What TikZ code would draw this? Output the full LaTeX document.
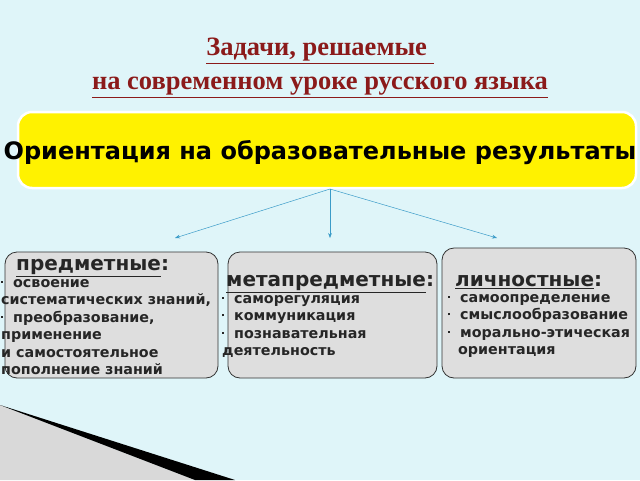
\documentclass[tikz,border=0pt]{standalone}
\usepackage{fontspec}
\setmainfont{Liberation Serif}
\setsansfont{DejaVu Sans}
\definecolor{bg}{HTML}{DFF5F9}
\definecolor{ttl}{HTML}{8B1A1A}
\definecolor{boxg}{HTML}{DEDEDE}
\definecolor{arr}{HTML}{3A9BC8}
\usetikzlibrary{arrows.meta}
\newcommand{\bul}{\raisebox{0.55ex}{\rule{2pt}{2pt}}}
\tikzset{
 grp/.style={draw=black!80, fill=boxg, rounded corners=12pt, line width=0.8pt},
 txt/.style={font=\sffamily\bfseries\fontsize{14.3}{17.5}\selectfont, align=left, anchor=north west, inner sep=0pt, text=black!85},
 hd/.style={font=\sffamily\bfseries\fontsize{20}{22}\selectfont, anchor=west, inner sep=0pt, text=black!85},
 conn/.style={draw=arr, line width=0.5pt, -{Stealth[length=5pt]}}
}
\begin{document}
\begin{tikzpicture}[x=1pt,y=-1pt]
\useasboundingbox (0,0) rectangle (640,480);
\clip (0,0) rectangle (640,480);
\fill[bg] (0,0) rectangle (640,480);
\fill[black!15] (0,405) -- (195,480) -- (0,480) -- cycle;
\fill[black] (0,405) -- (235,480) -- (195,480) -- cycle;
\node[font=\bfseries\fontsize{26.5}{34}\selectfont, text=ttl, align=center] (title) at (320,68) {\underline{Задачи, решаемые }\\ \underline{на современном уроке русского языка}};
\draw[white, line width=2.5pt, fill=yellow, rounded corners=14pt] (18,112) rectangle (636,188);
\node[font=\sffamily\bfseries\fontsize{24}{26}\selectfont] (ban) at (320,153) {Ориентация на образовательные результаты};
\coordinate (src) at (330,189);
\coordinate (t1) at (175,238);
\coordinate (t2) at (330,238);
\coordinate (t3) at (497,238);
\draw[conn] (src) -- (t1);
\draw[conn] (src) -- (t2);
\draw[conn] (src) -- (t3);
\draw[grp] (5,252) rectangle (218,378);
\draw[grp] (228,252) rectangle (437,378);
\draw[grp] (442,248) rectangle (636,378);
\node[hd] (h1) at (16,268) {\underline{предметные}:};
\node[txt] (b1) at (1,279) {\bul\ \ освоение\\систематических знаний,\\\bul\ \ преобразование,\\применение\\и самостоятельное\\пополнение знаний};
\node[hd] (h2) at (226,284) {\underline{метапредметные}:};
\node[txt] (b2) at (222,295) {\bul\ \ саморегуляция\\\bul\ \ коммуникация\\\bul\ \ познавательная\\деятельность};
\node[hd] (h3) at (455,282) {\underline{личностные}:};
\node[txt] (b3) at (448,294) {\bul\ \ самоопределение\\\bul\ \ смыслообразование\\\bul\ \ морально-этическая\\\ \ ориентация};
\end{tikzpicture}
\end{document}
